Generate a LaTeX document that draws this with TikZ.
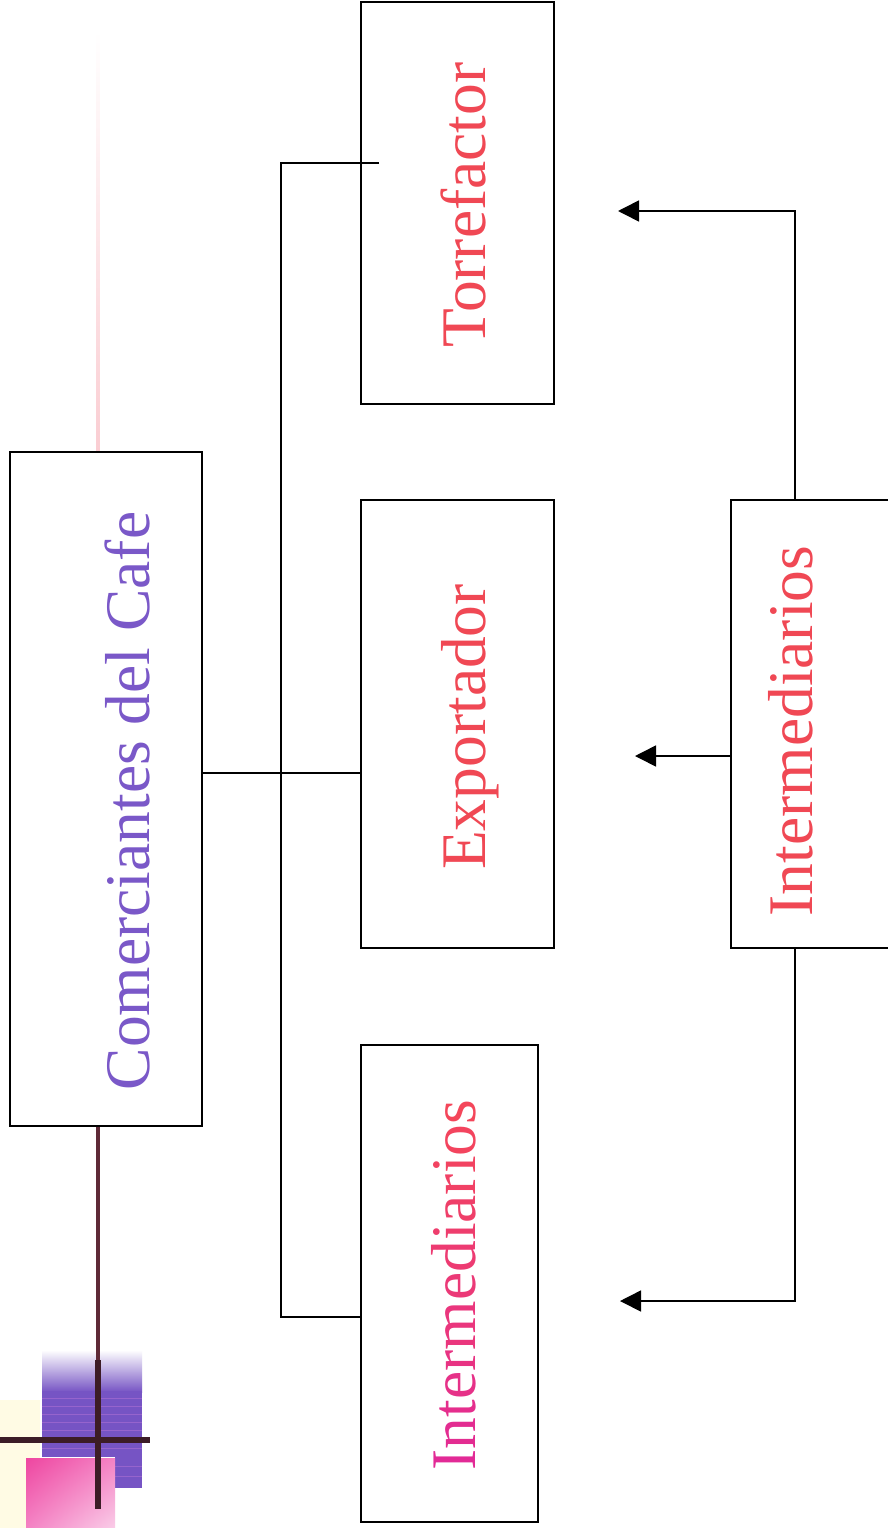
\documentclass[tikz,border=0pt]{standalone}
\usepackage{fontspec}
\setmainfont{Liberation Serif}
\usetikzlibrary{arrows.meta,shadings}
\definecolor{cpurple}{RGB}{122,88,200}
\definecolor{cred}{RGB}{240,72,84}
\definecolor{cmagA}{RGB}{226,42,150}
\definecolor{cmagB}{RGB}{244,70,90}
\definecolor{dpurple}{RGB}{118,84,196}
\definecolor{dstripe}{RGB}{150,100,205}
\definecolor{dpinkA}{RGB}{238,70,160}
\definecolor{dpinkB}{RGB}{250,205,232}
\definecolor{dpinkC}{RGB}{244,130,196}
\definecolor{dline}{RGB}{60,28,38}
\definecolor{dmaroon}{RGB}{95,42,55}
\definecolor{faintpink}{RGB}{250,205,210}
\definecolor{faintyel}{RGB}{255,251,228}
\definecolor{fadepink}{RGB}{232,160,230}
\newcommand{\gl}[2]{\textcolor{cmagB!#1!cmagA}{#2}}
\begin{document}
\begin{tikzpicture}[x=1pt,y=-1pt,
  box/.style={draw=black,line width=1.8pt,inner sep=0pt,outer sep=0pt},
  openbox/.style={inner sep=0pt,outer sep=0pt},
  boxline/.style={draw=black,line width=1.8pt},
  lbl/.style={rotate=90,anchor=base,inner sep=0pt,font=\fontsize{63.5}{70}\selectfont},
  conn/.style={line width=1.6pt},
  arr/.style={conn,-{Triangle[length=21pt,width=21pt]}}]
\useasboundingbox (0,0) rectangle (888,1528);
\clip (0,0) rectangle (888,1528);
\fill[white] (0,0) rectangle (888,1528);
% decoration
\fill[faintyel] (0,1400) rectangle (40,1528);
\shade[top color=white,middle color=fadepink,bottom color=dpurple] (42,1350) rectangle (142,1392);
\fill[dpurple] (42,1391) rectangle (142,1457);
\fill[dpurple] (115,1456) rectangle (142,1488);
\foreach \yy in {1398,1406,1414,1422,1430,1448,1466,1476}
  \draw[dstripe,line width=1pt] (42,\yy) -- (142,\yy);
\shade[upper left=dpinkA,upper right=dpinkC,lower left=dpinkC,lower right=dpinkB] (26,1458) rectangle (115,1528);
\shade[top color=white,bottom color=faintpink] (96.5,30) rectangle (99.5,452);
\draw[dmaroon,line width=4.5pt] (98,1126) -- (98,1360);
\draw[dline,line width=6.5pt] (98,1360) -- (98,1509);
\draw[dline,line width=6pt] (0,1440) -- (150,1440);
% boxes
\node[box,minimum width=192pt,minimum height=674pt] (com) at (106,789) {};
\node[box,minimum width=193pt,minimum height=402pt] (tor) at (457.5,203) {};
\node[box,minimum width=193pt,minimum height=448pt] (exp) at (457.5,724) {};
\node[box,minimum width=177pt,minimum height=477pt] (intL) at (449.5,1283.5) {};
\node[openbox,minimum width=193pt,minimum height=448pt] (intR) at (827.5,724) {};
\draw[boxline] (intR.north east) -- (intR.north west) -- (intR.south west) -- (intR.south east);
% labels
\node[lbl,text=cpurple] (tcom) at (149,801) {Comerciantes del Cafe};
\node[lbl,text=cred] (ttor) at (485,205) {Torrefactor};
\node[lbl,text=cred] (texp) at (485,727) {Exportador};
\node[lbl] (tintL) at (475,1285) {\gl{0}{I}\gl{8}{n}\gl{16}{t}\gl{24}{e}\gl{32}{r}\gl{42}{m}\gl{52}{e}\gl{60}{d}\gl{68}{i}\gl{75}{a}\gl{82}{r}\gl{88}{i}\gl{94}{o}\gl{100}{s}};
\node[lbl,text=cred] (tintR) at (812,731) {Intermediarios};
% connectors
\coordinate (hub) at (281,773);
\coordinate (jT) at (281,163);
\coordinate (tEnd) at (379,163);
\coordinate (jI) at (281,1317);
\coordinate (vR) at (795,0);
\coordinate (a1) at (618,211);
\coordinate (a2) at (635,756);
\coordinate (a3) at (620,1301);
\draw[conn] (com.east |- hub) -- (exp.west |- hub);
\draw[conn] (tEnd) -- (jT) -- (jI) -- (intL.west |- jI);
\draw[arr] (intR.north -| vR) |- (a1);
\draw[arr] (intR.west |- a2) -- (a2);
\draw[arr] (intR.south -| vR) |- (a3);
\end{tikzpicture}
\end{document}
